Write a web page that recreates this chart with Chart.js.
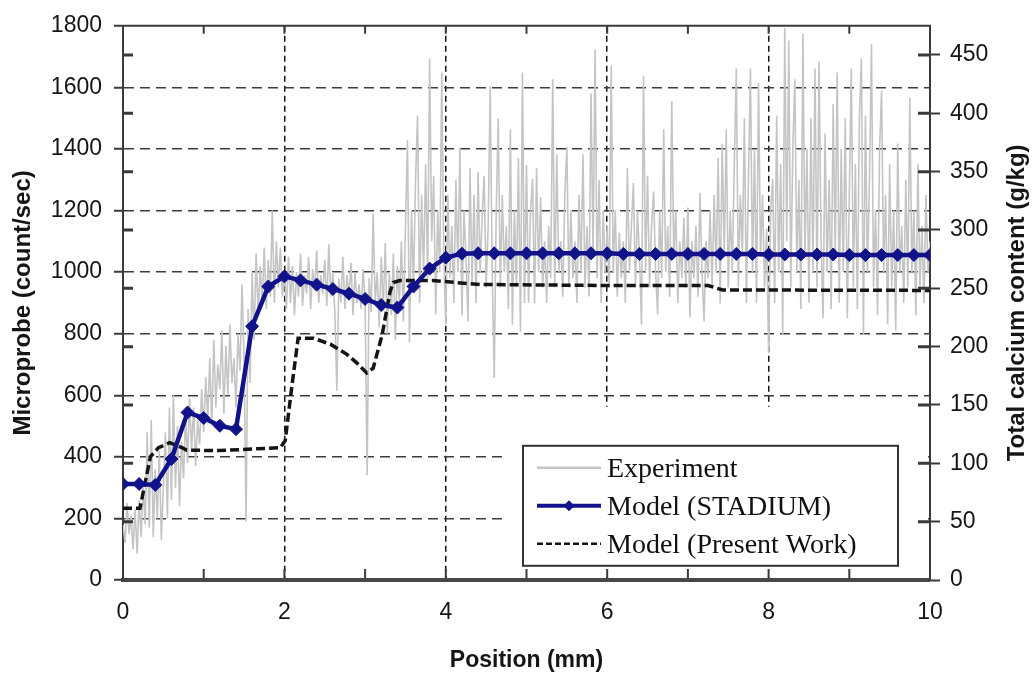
<!DOCTYPE html>
<html>
<head>
<meta charset="utf-8">
<script src="https://cdn.jsdelivr.net/npm/chart.js@4.4.1/dist/chart.umd.min.js"></script>
<style>
html,body{margin:0;padding:0;background:#fff;}
#wrap{position:relative;width:1036px;height:675px;}
</style>
</head>
<body>
<div id="wrap"><canvas id="c"></canvas></div>
<script>
// ---------- DATA ----------
// Experiment: microprobe counts (count/sec), sampled every 0.025 mm from 0 mm
const expStart = 0;
const expStep = 0.025;
const experimentCounts = [
  180,120,250,150,210,100,230,85,260,140,300,180,480,170,520,140,360,200,420,130,
  300,480,200,560,260,600,300,500,240,450,330,540,380,590,420,560,370,520,440,620,
  480,660,520,720,500,780,560,700,620,810,540,760,600,830,640,720,560,800,680,960,
  720,190,880,640,1000,780,1060,860,1020,900,1080,880,1040,920,1200,900,1100,950,1080,920,
  1000,880,1050,900,1020,860,1000,920,1060,890,990,930,1050,880,1010,940,1070,900,990,930,
  1040,890,1090,920,1000,870,614,980,900,1050,880,990,920,1030,860,1000,900,960,880,1010,
  900,340,980,870,1190,900,1000,820,1050,880,1094,800,1000,860,1060,780,1020,900,1100,840,
  1150,1428,772,1200,950,1300,1509,900,1250,1000,1350,980,1694,1100,1313,862,1200,1000,1648,1050,
  830,1250,980,1150,900,1300,1000,1405,860,1200,1050,840,1338,960,1250,900,1325,1000,1180,1313,
  950,1150,1603,1000,656,1200,1500,950,1250,1000,1150,880,1464,829,1200,950,1371,806,1648,900,
  1348,900,1200,1302,898,1338,1000,1244,950,1100,900,1150,980,1626,950,1383,1000,1100,920,1250,
  1406,950,1200,980,1100,900,1250,1000,1383,950,1150,921,1580,1050,1723,980,1300,900,1200,1000,
  1150,950,1671,1000,1200,920,1128,980,1100,900,1338,1000,1150,1290,950,1200,1050,829,1637,1000,
  1313,950,1150,1262,1000,862,1200,980,1464,1000,1150,920,1556,1050,1200,900,1100,980,1176,950,
  1210,853,1100,980,1150,920,1257,1000,840,1100,980,1200,950,1250,1000,1371,898,1418,1050,1464,
  950,1200,1000,1350,1661,950,1250,1050,1500,900,1300,1661,1000,1400,900,1614,1050,1250,950,1141,
  737,1200,1302,900,1509,1000,1350,795,1794,1100,1752,950,1400,1626,1000,1300,880,1775,1050,1400,
  900,1500,1000,1661,950,1684,1100,850,1450,1000,1300,880,1545,1050,1648,900,1400,1000,1500,850,
  1250,1661,950,1350,880,1500,1694,795,1509,1000,1300,1740,950,1200,860,1400,1590,1000,1250,830,
  1350,950,1200,810,1418,1000,1150,900,1300,950,1567,1000,1200,860,1350,950,1150,900,1250,1000,
  1100
];

// Model (STADIUM): total calcium content (g/kg)
const stadiumPos = [0,0.2,0.4,0.6,0.8,1,1.2,1.4,1.6,1.8,2,2.2,2.4,2.6,2.8,3,3.2,3.4,3.6,3.8,
  4,4.2,4.4,4.6,4.8,5,5.2,5.4,5.6,5.8,6,6.2,6.4,6.6,6.8,7,7.2,7.4,7.6,7.8,
  8,8.2,8.4,8.6,8.8,9,9.2,9.4,9.6,9.8,10];
const stadiumCalcium = [82.3,82.3,81.5,103.7,143.6,138.8,132.2,129.3,217.4,251.5,260.2,256.8,253.1,249.4,245.4,240.9,235.7,233.5,251.6,266.9,
  276.3,279.7,280,280,280,280,280,280,280,280,280,279.5,279.5,279.5,279.5,279.5,279.5,279.5,279.5,279.5,
  279,279,279,279,279,278.5,278.5,278.5,278.5,278.5,278.5];

// Model (Present Work): total calcium content (g/kg)
const presentPos = [0,0.21,0.34,0.44,0.58,0.73,0.79,1.2,1.95,2.01,2.09,2.17,2.36,2.57,2.77,2.9,3.02,3.1,3.21,3.31,
  3.35,3.43,3.84,4.26,4.42,6,7.25,7.43,10];
const presentCalcium = [61.4,61.4,105.7,113.4,117.7,113.4,111.3,110.9,113.4,119.4,164.6,207.2,207.2,202.1,193.6,185.9,177.4,181.6,209.8,247.3,
  255,256.7,256.7,254.1,253.3,252.4,252.4,248.6,248.2];

const xTickLabels = [0,2,4,6,8,10];
const xGridAt = [2,4,6,8];
const leftTitle = 'Microprobe (count/sec)';
const rightTitle = 'Total calcium content (g/kg)';
const xTitle = 'Position (mm)';

// ---------- STYLE ----------
const FONT = '"Liberation Sans", Arial, sans-serif';
const SERIF = '"Liberation Serif", "Times New Roman", serif';
const GRAY = '#c4c4c4';
const NAVY = '#12128a';
const BLACK = '#151515';
const AXIS = '#3a3a3a';
Chart.defaults.font.family = FONT;

const maskPlugin = {
  id: 'legendMask',
  beforeDatasetsDraw(chart) {
    const {ctx, chartArea: a} = chart;
    ctx.save();
    ctx.fillStyle = '#ffffff';
    const x0 = a.left + 380, y0 = a.top + 381;
    ctx.fillRect(x0, y0, a.right - 2 - x0, a.bottom - 3 - y0);
    ctx.restore();
  }
};

const decorPlugin = {
  id: 'decor',
  afterDraw(chart) {
    const {ctx, chartArea: a, scales} = chart;
    ctx.save();
    // top frame
    ctx.strokeStyle = AXIS; ctx.lineWidth = 2;
    ctx.beginPath(); ctx.moveTo(a.left - 1, a.top); ctx.lineTo(a.right + 1, a.top); ctx.stroke();
    // inner x ticks (bottom and top)
    ctx.lineWidth = 2; ctx.beginPath();
    scales.x.ticks.forEach(t => {
      const px = scales.x.getPixelForValue(t.value);
      ctx.moveTo(px, a.bottom - 2); ctx.lineTo(px, a.bottom - 11);
      ctx.moveTo(px, a.top); ctx.lineTo(px, a.top + 8);
    });
    ctx.stroke();
    // inner marks for right-axis ticks (left side and right side)
    ctx.lineWidth = 3; ctx.beginPath();
    scales.y2.ticks.forEach(t => {
      if (t.value === 0) return;
      const py = scales.y2.getPixelForValue(t.value);
      ctx.moveTo(a.left, py); ctx.lineTo(a.left + 10, py);
      ctx.moveTo(a.right - 12, py); ctx.lineTo(a.right, py);
    });
    ctx.stroke();

    // right title (reads bottom-to-top)
    ctx.save();
    ctx.translate(1017, (a.top + a.bottom) / 2);
    ctx.rotate(-Math.PI / 2);
    ctx.fillStyle = BLACK;
    ctx.font = 'bold 24px ' + FONT;
    ctx.textAlign = 'center'; ctx.textBaseline = 'middle';
    ctx.fillText(rightTitle, 0, 0);
    ctx.restore();

    // legend box
    const bx = a.left + 400, by = a.top + 420, bw = 375, bh = 120;
    ctx.fillStyle = '#fff';
    ctx.fillRect(bx, by, bw, bh);
    ctx.strokeStyle = '#333'; ctx.lineWidth = 2;
    ctx.strokeRect(bx, by, bw, bh);
    const rows = [by + 22, by + 60, by + 98];
    const ds = chart.data.datasets;
    const lx0 = bx + 14, lx1 = bx + 78, tx = bx + 84;
    ds.forEach((d, i) => {
      const y = rows[i];
      ctx.save();
      ctx.strokeStyle = d.borderColor;
      ctx.lineWidth = i === 0 ? 2.5 : (i === 1 ? 4 : 2.5);
      ctx.setLineDash(d.borderDash ? [6, 3] : []);
      ctx.beginPath(); ctx.moveTo(lx0, y); ctx.lineTo(lx1, y); ctx.stroke();
      ctx.setLineDash([]);
      if (d.pointRadius > 0) {
        const cx = (lx0 + lx1) / 2, r = 5.5;
        ctx.fillStyle = d.borderColor;
        ctx.beginPath(); ctx.moveTo(cx, y - r); ctx.lineTo(cx + r, y); ctx.lineTo(cx, y + r); ctx.lineTo(cx - r, y); ctx.closePath(); ctx.fill();
      }
      ctx.fillStyle = '#111';
      ctx.font = '28px ' + SERIF;
      ctx.textAlign = 'left'; ctx.textBaseline = 'middle';
      ctx.fillText(d.label, tx, y + 2);
      ctx.restore();
    });
    ctx.restore();
  }
};

new Chart(document.getElementById('c'), {
  type: 'line',
  data: {
    datasets: [
      {
        label: 'Experiment',
        data: experimentCounts.map((v, i) => ({x: expStart + i * expStep, y: v})),
        yAxisID: 'y', borderColor: GRAY, borderWidth: 1.6, pointRadius: 0, tension: 0, order: 3
      },
      {
        label: 'Model (STADIUM)',
        data: stadiumPos.map((p, i) => ({x: p, y: stadiumCalcium[i]})),
        yAxisID: 'y2', borderColor: NAVY, backgroundColor: NAVY, borderWidth: 4.5,
        pointStyle: 'rectRot', pointRadius: 6.5, pointBackgroundColor: NAVY, pointBorderColor: NAVY, pointBorderWidth: 1,
        tension: 0, order: 1
      },
      {
        label: 'Model (Present Work)',
        data: presentPos.map((p, i) => ({x: p, y: presentCalcium[i]})),
        yAxisID: 'y2', borderColor: BLACK, borderWidth: 3.5, borderDash: [9, 4], pointRadius: 0, tension: 0, order: 2
      }
    ]
  },
  options: {
    responsive: true, maintainAspectRatio: false, animation: false, events: [],
    layout: {padding: {top: 22, left: 0, right: 0, bottom: 0}},
    plugins: {legend: {display: false}, tooltip: {enabled: false}},
    scales: {
      x: {
        type: 'linear', min: 0, max: 10,
        afterFit: s => { s.height = 95; },
        ticks: {
          stepSize: 1, autoSkip: false, maxRotation: 0, padding: 19, color: BLACK,
          font: {family: FONT, size: 23},
          callback: v => (xTickLabels.includes(v) ? String(v) : '')
        },
        grid: {
          drawTicks: false, lineWidth: 1.5,
          color: c => (c.tick && xGridAt.includes(c.tick.value)) ? '#151515' : 'rgba(0,0,0,0)'
        },
        border: {display: true, color: '#474747', width: 4, dash: [6, 4]},
        title: {display: true, text: xTitle, color: BLACK, font: {family: FONT, size: 23, weight: 'bold'}, padding: {top: 0, bottom: 1}}
      },
      y: {
        position: 'left', min: 0, max: 1800,
        afterFit: s => { s.width = 123; },
        ticks: {stepSize: 200, padding: 12, color: BLACK, font: {family: FONT, size: 23}, callback: v => String(v)},
        grid: {
          drawTicks: true, tickLength: 9, tickColor: AXIS, tickWidth: 2, lineWidth: 1.5,
          color: c => (c.tick && c.tick.value > 0 && c.tick.value < 1800) ? '#3c3c3c' : 'rgba(0,0,0,0)'
        },
        border: {color: AXIS, width: 2, dash: [10, 6]},
        title: {display: true, text: leftTitle, color: BLACK, font: {family: FONT, size: 24, weight: 'bold'}, padding: {top: 9, bottom: 0}}
      },
      y2: {
        position: 'right', min: 0, max: 475,
        afterFit: s => { s.width = 106; },
        afterBuildTicks: s => { s.ticks = s.ticks.filter(t => Math.abs(t.value % 50) < 1e-6); },
        ticks: {stepSize: 50, padding: 10, color: BLACK, font: {family: FONT, size: 23}, callback: v => String(v)},
        grid: {drawOnChartArea: false, drawTicks: true, tickLength: 10, tickColor: AXIS, tickWidth: 2},
        border: {color: AXIS, width: 2}
      }
    }
  },
  plugins: [maskPlugin, decorPlugin]
});
</script>
</body>
</html>
